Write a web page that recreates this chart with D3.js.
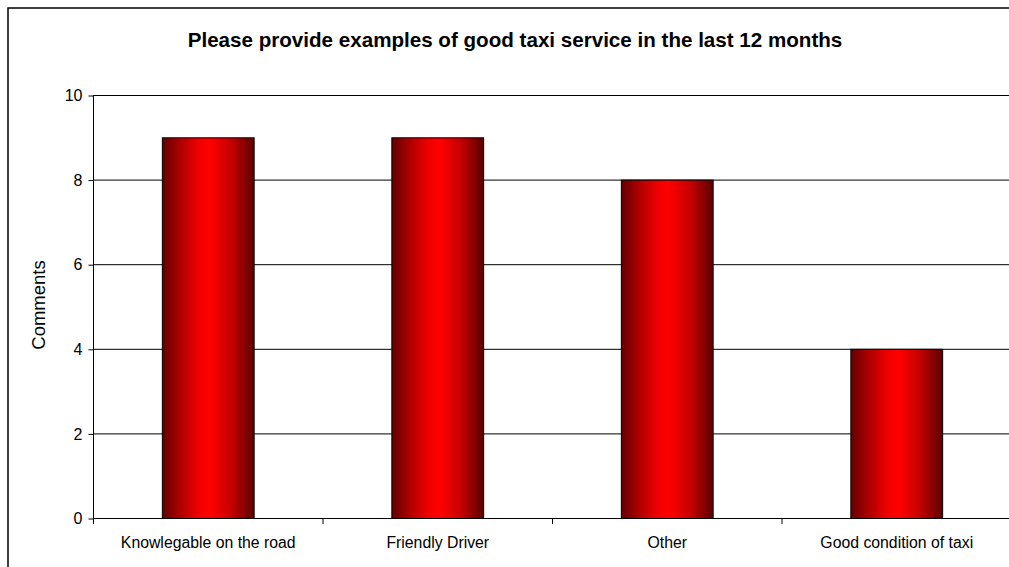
<!DOCTYPE html>
<html><head><meta charset="utf-8">
<script src="https://cdn.jsdelivr.net/npm/d3@7"></script>
<style>body{margin:0;background:#fff}svg{display:block}text{font-family:"Liberation Sans",Arial,sans-serif}</style>
</head><body>
<svg id="c" width="1009" height="567"></svg>
<script>
const categories = ["Knowlegable on the road","Friendly Driver","Other","Good condition of taxi"];
const values = [9, 9, 8, 4];
const yTicks = [0, 2, 4, 6, 8, 10];
const title = "Please provide examples of good taxi service in the last 12 months";
const yLabel = "Comments";

const svg = d3.select("#c");
const m = {left: 93, right: 1011, top: 95, bottom: 518};
const FONT = "Liberation Sans, Arial, sans-serif";

const defs = svg.append("defs");
const g = defs.append("linearGradient").attr("id","barGrad").attr("x1","0%").attr("x2","100%").attr("y1","0%").attr("y2","0%");
[["0%","#620000"],["20%","#b00000"],["40%","#f00000"],["52%","#ff0000"],["75%","#c60000"],["100%","#5c0000"]]
  .forEach(([o,c])=>g.append("stop").attr("offset",o).attr("stop-color",c));

// outer border
svg.append("rect").attr("x",8).attr("y",8).attr("width",1100).attr("height",700)
  .attr("fill","#fff").attr("stroke","#000").attr("stroke-width",1.5);

const x = d3.scaleBand().domain(categories).range([m.left, m.right]).paddingInner(0.6).paddingOuter(0.3);
const xb = d3.scaleBand().domain(categories).range([m.left, m.right]);
const y = d3.scaleLinear().domain([0,10]).range([m.bottom, m.top]);

// gridlines
svg.append("g").selectAll("line").data(yTicks.filter(d=>d>0)).join("line")
  .attr("x1", m.left).attr("x2", 1009).attr("y1", d=>y(d)+0.5).attr("y2", d=>y(d)+0.5)
  .attr("stroke","#000").attr("stroke-width",1);

// bars
svg.append("g").selectAll("rect").data(values).join("rect")
  .attr("x",(d,i)=>x(categories[i])+0.5).attr("width",x.bandwidth())
  .attr("y",d=>y(d)+0.5).attr("height",d=>m.bottom-y(d))
  .attr("fill","url(#barGrad)").attr("stroke","#000").attr("stroke-width",1);

// y axis
const ya = svg.append("g").attr("transform",`translate(${m.left+0.5},0.5)`)
  .call(d3.axisLeft(y).tickValues(yTicks).tickSize(5).tickPadding(6).tickFormat(d3.format("d")));
ya.select(".domain").attr("stroke","#000").attr("d",`M0,${m.top}V${m.bottom}`);
ya.selectAll("text").attr("font-size",16).attr("fill","#000").style("font-family",FONT);

// x axis
const xa = svg.append("g").attr("transform",`translate(0.5,${m.bottom+0.5})`)
  .call(d3.axisBottom(xb).tickSize(0).tickPadding(18));
xa.select(".domain").attr("stroke","#000").attr("d",`M${m.left},0H1010`);
xa.selectAll("text").attr("font-size",15.8).attr("fill","#000").style("font-family",FONT);
// category separator ticks
svg.append("g").selectAll("line").data(categories).join("line")
  .attr("x1",d=>xb(d)+0.5).attr("x2",d=>xb(d)+0.5).attr("y1",m.bottom).attr("y2",m.bottom+6)
  .attr("stroke","#000");

// title
svg.append("text").attr("x",515).attr("y",47).attr("text-anchor","middle")
  .attr("font-size",20.6).attr("font-weight","bold").text(title);

// y label
svg.append("text").attr("transform",`translate(45,305) rotate(-90)`)
  .attr("text-anchor","middle").attr("font-size",18.5).text(yLabel);
</script>
</body></html>
